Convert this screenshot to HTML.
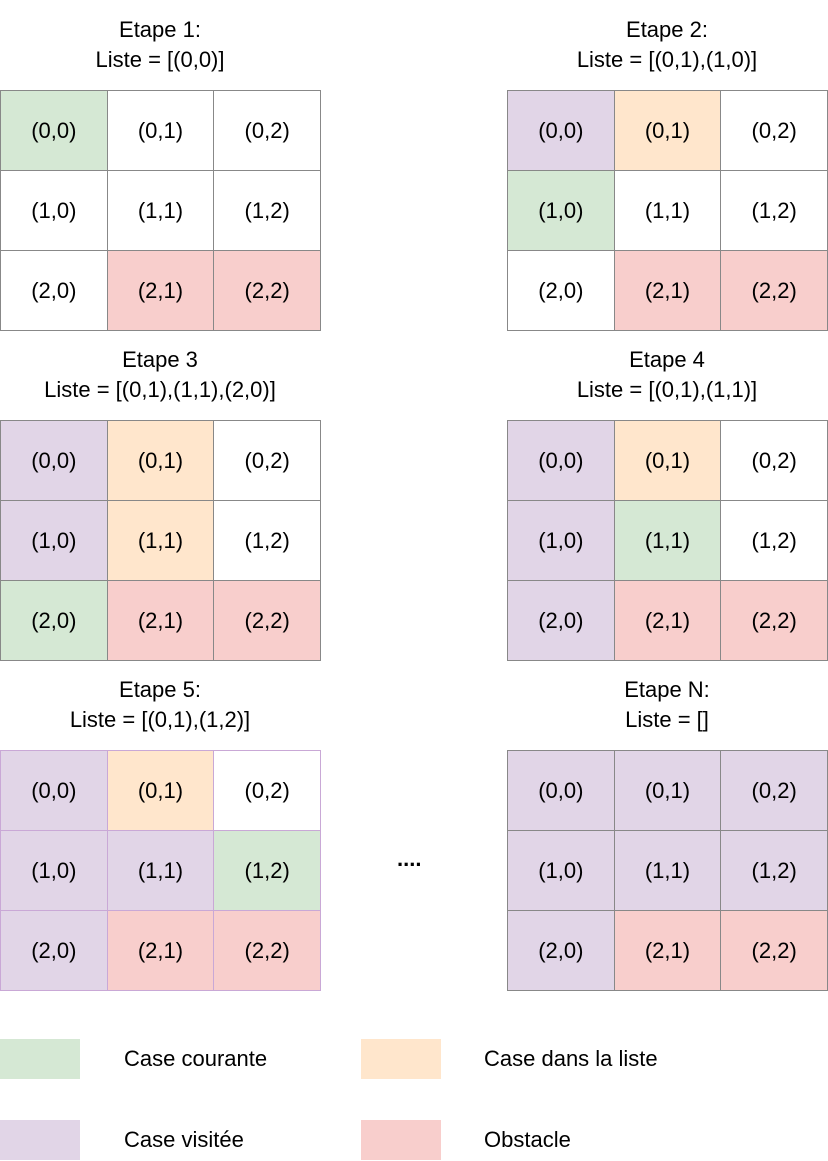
<!DOCTYPE html>
<html><head><meta charset="utf-8"><style>
body{margin:0;width:828px;height:1161px;background:#fff;position:relative;overflow:hidden;font-family:"Liberation Sans",Arial,sans-serif;color:#000}
.t{position:absolute;text-align:center;font-size:22px;line-height:30px;width:320px}
.c{position:absolute;box-sizing:border-box;display:flex;align-items:center;justify-content:center;font-size:22px}
.lr{position:absolute;width:80px;height:40px}
.lt{position:absolute;font-size:22px;line-height:40px}
</style></head><body>
<div id="root"></div>
<div class="lr" style="left:0;top:1039px;background:#d5e8d4"></div>
<div class="lt" style="left:124px;top:1039px">Case courante</div>
<div class="lr" style="left:361px;top:1039px;background:#ffe6cc"></div>
<div class="lt" style="left:484px;top:1039px">Case dans la liste</div>
<div class="lr" style="left:0;top:1120px;background:#e1d5e7"></div>
<div class="lt" style="left:124px;top:1120px">Case visitée</div>
<div class="lr" style="left:361px;top:1120px;background:#f8cecc"></div>
<div class="lt" style="left:484px;top:1120px">Obstacle</div>
<div style="position:absolute;left:397px;top:846px;font-size:22px;font-weight:bold">....</div>
<script>
const titles=[["Etape 1:","Liste = [(0,0)]"],["Etape 2:","Liste = [(0,1),(1,0)]"],["Etape 3","Liste = [(0,1),(1,1),(2,0)]"],["Etape 4","Liste = [(0,1),(1,1)]"],["Etape 5:","Liste = [(0,1),(1,2)]"],["Etape N:","Liste = []"]];
// states: c=current, l=in list, v=visited, o=obstacle, w=empty
const states=["cww www woo","vlw cww woo","vlw vlw coo","vlw vcw voo","vlw vvc voo","vvv vvv voo"];
const colors={c:"#d5e8d4",l:"#ffe6cc",v:"#e1d5e7",o:"#f8cecc",w:"#ffffff"};
const borders=["#888","#888","#888","#888","#c9a8d6","#888"];
const root=document.getElementById('root');
states.forEach((s,g)=>{
  const gx=(g%2)*507, gy=Math.floor(g/2)*330;
  const t=document.createElement('div');t.className='t';
  
  
  t.style.left=gx+'px';t.style.top=(gy+15)+'px';
  t.innerHTML=titles[g][0]+'<br>'+titles[g][1];root.appendChild(t);
  const rows=s.split(' ');
  rows.forEach((r,i)=>{[...r].forEach((k,j)=>{
    const d=document.createElement('div');d.className='c';
    
    
    d.style.left=(gx+j*106.67)+'px';d.style.top=(gy+90+i*80)+'px';
    d.style.width='107.67px';d.style.height='81px';
    d.style.background=colors[k];d.style.border='1px solid '+borders[g];
    d.textContent='('+i+','+j+')';root.appendChild(d);
  });});
});
</script>
</body></html>
